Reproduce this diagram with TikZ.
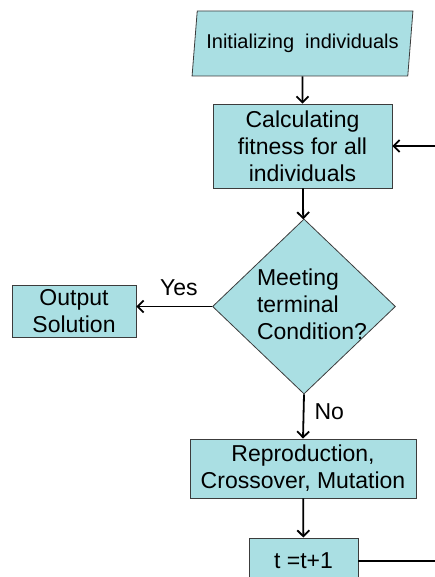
\documentclass[tikz,border=0pt]{standalone}
\usepackage{fontspec}
\setmainfont{Liberation Sans}
\usepackage{xcolor}
\usetikzlibrary{arrows.meta,shapes.geometric}
\definecolor{boxfill}{RGB}{170,223,227}
\definecolor{boxline}{RGB}{60,60,60}
\tikzset{
  blk/.style={draw=boxline, line width=0.8pt, fill=boxfill, align=center,
              inner sep=2pt, font=\fontsize{23}{27}\selectfont},
  iobox/.style={blk, trapezium, trapezium left angle=78, trapezium right angle=102,
                trapezium stretches=true, font=\fontsize{20}{24}\selectfont},
  decide/.style={blk, diamond, inner sep=0pt},
  lbl/.style={inner sep=2pt, font=\fontsize{23}{27}\selectfont},
  flow/.style={line width=1.8pt, -{Straight Barb[length=6pt,width=12pt]}},
  plain/.style={line width=2.6pt},
}
\begin{document}
\begin{tikzpicture}[x=1pt,y=1pt]
  \path[use as bounding box] (0,0) rectangle (435,-577);
  \clip (0,0) rectangle (435,-577);
  \node[iobox, minimum width=221pt, minimum height=65pt] (init) at (302.5,-43.5)
    {Initializing~ individuals};
  \node[blk, minimum width=179pt, minimum height=84pt] (fit) at (302.5,-146)
    {Calculating\\ fitness for all\\ individuals};
  \node[decide, minimum width=183pt, minimum height=175pt,
        label={[lbl, align=left, xshift=8pt, yshift=2pt]center:Meeting\\ terminal\\ Condition?}]
    (cond) at (304,-306.5) {};
  \node[blk, minimum width=124pt, minimum height=52pt] (out) at (74,-311)
    {Output\\ Solution};
  \node[blk, minimum width=226pt, minimum height=59pt] (repro) at (303,-468.5)
    {Reproduction,\\ Crossover, Mutation};
  \node[blk, minimum width=109pt, minimum height=46pt] (tinc) at (303.5,-561)
    {t =t+1};
  \coordinate (back) at (435,-146);
  \coordinate (loop) at (435,-561);
  \draw[flow]  (init) -- (fit);
  \draw[flow]  (fit) -- (cond);
  \draw[flow]  (cond.west) -- node[lbl, pos=0.44, above=8pt] {Yes} (out.east |- cond.west);
  \draw[flow]  (cond.south) -- node[lbl, pos=0.4, right=8pt] {No} (repro.north);
  \draw[flow]  (repro) -- (tinc);
  \draw[plain] (tinc.east) -- (loop);
  \draw[flow]  (back) -- (fit.east);
\end{tikzpicture}
\end{document}
